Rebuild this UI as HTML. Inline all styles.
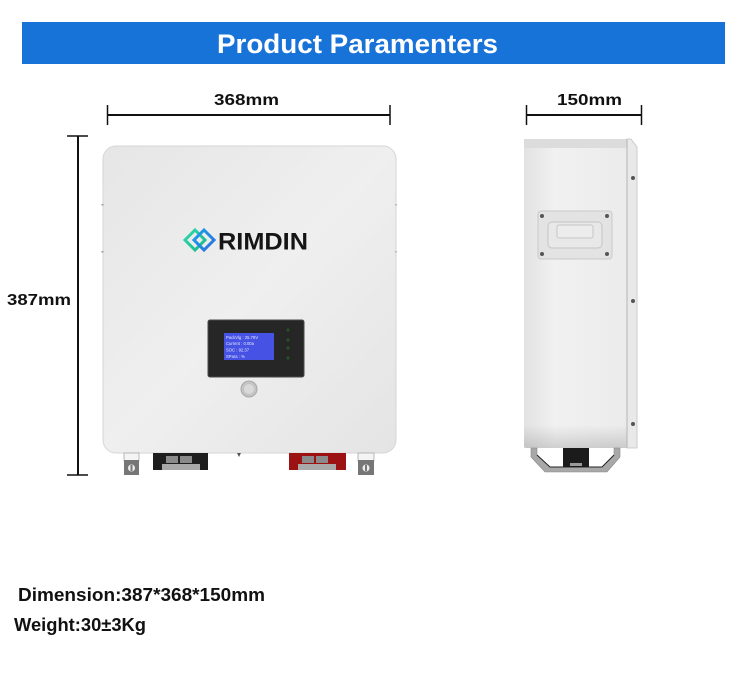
<!DOCTYPE html>
<html><head><meta charset="utf-8"><style>
html,body{margin:0;padding:0;background:#fff;}
svg{display:block;}
text{font-family:"Liberation Sans",sans-serif;font-weight:bold;}
</style></head><body>
<svg width="750" height="699" viewBox="0 0 750 699" xmlns="http://www.w3.org/2000/svg">
<defs>
<linearGradient id="fp" x1="0" y1="0" x2="1" y2="1">
<stop offset="0" stop-color="#e6e6e6"/><stop offset="0.5" stop-color="#efefef"/><stop offset="1" stop-color="#e4e4e4"/>
</linearGradient>
<linearGradient id="sf" x1="0" y1="0" x2="1" y2="0">
<stop offset="0" stop-color="#e2e2e2"/><stop offset="0.3" stop-color="#f1f1f1"/><stop offset="1" stop-color="#ebebeb"/>
</linearGradient>
<linearGradient id="sb" x1="0" y1="0" x2="0" y2="1">
<stop offset="0" stop-color="#000" stop-opacity="0"/><stop offset="1" stop-color="#000" stop-opacity="0.14"/>
</linearGradient>
<linearGradient id="lg1" x1="0" y1="0" x2="1" y2="1">
<stop offset="0" stop-color="#1aa0e8"/><stop offset="1" stop-color="#2a6fe0"/>
</linearGradient>
<linearGradient id="lg2" x1="0" y1="0" x2="1" y2="1">
<stop offset="0" stop-color="#2fd6b0"/><stop offset="1" stop-color="#19b98a"/>
</linearGradient>
</defs>

<!-- banner -->
<rect x="22" y="22" width="703" height="42" fill="#1873d9"/>
<text x="217" y="53" font-size="27" fill="#fff" textLength="281" lengthAdjust="spacingAndGlyphs">Product Paramenters</text>

<!-- top dimension 368 -->
<text x="214" y="105" font-size="16" fill="#111" textLength="65" lengthAdjust="spacingAndGlyphs">368mm</text>
<line x1="107" y1="115" x2="390" y2="115" stroke="#111" stroke-width="2"/>
<line x1="107.5" y1="105" x2="107.5" y2="125" stroke="#111" stroke-width="1.5"/>
<line x1="390" y1="105" x2="390" y2="125" stroke="#111" stroke-width="1.5"/>

<!-- 150 -->
<text x="557" y="105" font-size="16" fill="#111" textLength="65" lengthAdjust="spacingAndGlyphs">150mm</text>
<line x1="526" y1="115" x2="642" y2="115" stroke="#111" stroke-width="2"/>
<line x1="526.5" y1="105" x2="526.5" y2="125" stroke="#111" stroke-width="1.5"/>
<line x1="641.5" y1="105" x2="641.5" y2="125" stroke="#111" stroke-width="1.5"/>

<!-- vertical 387 -->
<line x1="78" y1="136" x2="78" y2="475" stroke="#111" stroke-width="2"/>
<line x1="67" y1="136" x2="88" y2="136" stroke="#111" stroke-width="1.5"/>
<line x1="67" y1="475" x2="88" y2="475" stroke="#111" stroke-width="1.5"/>
<text x="7" y="305" font-size="16" fill="#111" textLength="64" lengthAdjust="spacingAndGlyphs">387mm</text>

<!-- front panel -->
<rect x="103" y="146" width="293" height="307" rx="13" fill="url(#fp)" stroke="#d6d6d6" stroke-width="1"/>
<rect x="101.5" y="204" width="2" height="1.5" fill="#999"/>
<rect x="101.5" y="251" width="2" height="1.5" fill="#999"/>
<rect x="395" y="204" width="2" height="1.5" fill="#bbb"/>
<rect x="395" y="251" width="2" height="1.5" fill="#bbb"/>

<!-- logo -->
<g fill="none" stroke-width="3">
<path d="M195 230 L205 240 L195 250 L185 240 Z" stroke="url(#lg2)"/>
<path d="M204 230 L214 240 L204 250 L194 240 Z" stroke="url(#lg1)"/>
</g>
<text x="218" y="249.5" font-size="24.5" fill="#151515" textLength="90" lengthAdjust="spacingAndGlyphs">RIMDIN</text>

<!-- display -->
<rect x="208" y="320" width="96" height="57" rx="2" fill="#262626" stroke="#4a4a4a" stroke-width="1"/>
<rect x="224" y="333" width="50" height="27" fill="#4652e4"/>
<g font-size="4.2" fill="#e6e8ff" style="font-weight:normal">
<text x="226" y="339" style="font-weight:normal">PackVlg : 25.78V</text>
<text x="226" y="345" style="font-weight:normal">Current : 0.00a</text>
<text x="226" y="351.5" style="font-weight:normal">SOC     : 92.37</text>
<text x="226" y="358" style="font-weight:normal">SPara   :    %</text>
</g>
<g fill="#2f4a30" stroke="#1a2a1a" stroke-width="0.5">
<circle cx="288" cy="330" r="2"/><circle cx="288" cy="340" r="2"/>
<circle cx="288" cy="348" r="2"/><circle cx="288" cy="358" r="2"/>
</g>
<circle cx="249" cy="389" r="8" fill="#c4c4c4" stroke="#a8a8a8" stroke-width="1"/>
<circle cx="249" cy="389" r="5" fill="#d9d9d9"/>

<!-- bottom brackets front -->
<rect x="124" y="453" width="15" height="8" fill="#f4f4f4" stroke="#aaa" stroke-width="0.8"/>
<rect x="124" y="460" width="15" height="15" fill="#767676"/>
<circle cx="131.5" cy="468" r="3.5" fill="#eee"/><rect x="130.5" y="465" width="2" height="6" fill="#777"/>
<rect x="358" y="453" width="16" height="8" fill="#f4f4f4" stroke="#aaa" stroke-width="0.8"/>
<rect x="358" y="460" width="16" height="15" fill="#767676"/>
<circle cx="366" cy="468" r="3.5" fill="#eee"/><rect x="365" y="465" width="2" height="6" fill="#777"/>
<path d="M237 453 L241 453 L239 457 Z" fill="#555"/>

<rect x="153" y="453" width="55" height="17" fill="#1e1e1e"/>
<rect x="166" y="456" width="12" height="7" fill="#8a8a8a"/>
<rect x="180" y="456" width="12" height="7" fill="#8a8a8a"/>
<rect x="162" y="464" width="38" height="6" fill="#a9a9a9"/>

<rect x="289" y="453" width="57" height="17" fill="#9c1212"/>
<rect x="302" y="456" width="12" height="7" fill="#8a8a8a"/>
<rect x="316" y="456" width="12" height="7" fill="#8a8a8a"/>
<rect x="298" y="464" width="38" height="6" fill="#a9a9a9"/>

<!-- side view -->
<rect x="524" y="139" width="104" height="309" rx="3" fill="url(#sf)"/>
<rect x="524" y="139" width="104" height="9" fill="#dcdcdc"/>
<rect x="524" y="425" width="104" height="23" fill="url(#sb)"/>
<path d="M627 139 L631 139 L637 147 L637 448 L627 448 Z" fill="#e9e9e9" stroke="#c2c2c2" stroke-width="0.8"/>
<line x1="627" y1="139" x2="627" y2="448" stroke="#b5b5b5" stroke-width="1"/>
<g fill="#555"><circle cx="633" cy="178" r="2"/><circle cx="633" cy="301" r="2"/><circle cx="633" cy="424" r="2"/></g>

<rect x="538" y="211" width="74" height="48" rx="3" fill="#e3e3e3" stroke="#c9c9c9" stroke-width="1"/>
<rect x="548" y="222" width="54" height="26" rx="4" fill="#e8e8e8" stroke="#c4c4c4" stroke-width="1"/>
<rect x="557" y="225" width="36" height="13" rx="2" fill="#ececec" stroke="#c6c6c6" stroke-width="1"/>
<g fill="#555"><circle cx="542" cy="216" r="2"/><circle cx="607" cy="216" r="2"/><circle cx="542" cy="254" r="2"/><circle cx="607" cy="254" r="2"/></g>

<path d="M531 448 L531 457 L545 472 L607 472 L620 457 L620 448 L614 448 L614 455 L602 467 L550 467 L537 455 L537 448 Z" fill="#a8a8a8" stroke="#888" stroke-width="0.6"/>
<path d="M537 455 L550 467 L602 467 L614 455" fill="none" stroke="#222" stroke-width="1"/>
<rect x="563" y="448" width="26" height="19" fill="#1b1b1b"/>
<rect x="570" y="463" width="12" height="3" fill="#9a9a9a"/>

<!-- bottom text -->
<text x="18" y="601" font-size="18" fill="#111" textLength="247" lengthAdjust="spacingAndGlyphs">Dimension:387*368*150mm</text>
<text x="14" y="631" font-size="18" fill="#111" textLength="132" lengthAdjust="spacingAndGlyphs">Weight:30±3Kg</text>
</svg>
</body></html>
